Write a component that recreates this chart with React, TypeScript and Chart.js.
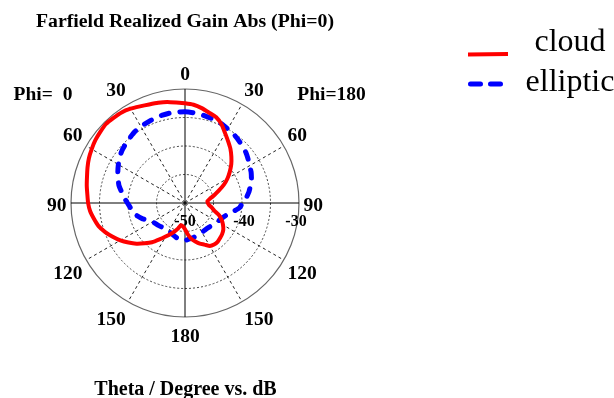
import React, { useEffect, useRef } from 'react';
import { Chart, registerables } from 'chart.js';

Chart.register(...registerables);

// Theta positions around the polar plot (clockwise from top; right half = Phi=180, left half = Phi=0)
const angles = [
  0, 5, 10, 15, 20, 25, 30, 35, 40, 45, 50, 55, 60, 65, 70, 75, 80, 85,
  90, 95, 100, 105, 110, 115, 120, 125, 130, 135, 140, 145, 150, 155, 160, 165, 170, 175,
  180, 185, 190, 195, 200, 205, 210, 215, 220, 225, 230, 235, 240, 245, 250, 255, 260, 265,
  270, 275, 280, 285, 290, 295, 300, 305, 310, 315, 320, 325, 330, 335, 340, 345, 350, 355,
];

// Realized gain (dB)
const cloud = [
  -32.5, -32.7, -33.1, -33.6, -34.0, -34.8, -35.9, -36.8, -37.6, -38.5, -39.4, -40.4, -41.4, -42.5, -43.7, -44.7, -45.55, -46.05,
  -46.0, -45.75, -45.2, -44.65, -43.6, -42.9, -42.3, -41.8, -41.5, -41.3, -41.1, -41.1, -41.3, -41.95, -42.4, -43.0, -43.6, -44.5,
  -45.4, -45.9, -46.05, -45.4, -44.7, -44.0, -43.2, -42.2, -41.0, -40.0, -38.9, -37.9, -36.9, -36.0, -35.1, -34.3, -33.8, -33.3,
  -33.0, -32.8, -32.5, -32.2, -31.8, -31.4, -31.1, -30.8, -30.6, -30.4, -30.5, -30.6, -30.9, -31.3, -31.6, -31.8, -32.0, -32.3,
];

const elliptic = [
  -34.0, -34.1, -34.2, -34.4, -34.5, -34.7, -35.0, -35.2, -35.5, -35.8, -36.1, -36.5, -36.9, -37.2, -37.6, -38.1, -38.6, -39.2,
  -39.9, -40.4, -41.4, -42.3, -42.8, -43.2, -43.4, -43.7, -43.9, -44.0, -44.1, -44.1, -44.1, -44.0, -43.9, -43.8, -43.7, -43.6,
  -43.4, -43.4, -43.6, -43.8, -44.0, -44.2, -44.3, -44.4, -44.3, -44.1, -43.9, -43.7, -43.4, -42.8, -42.0, -41.3, -40.8, -40.4,
  -39.9, -39.3, -38.7, -38.0, -37.5, -37.0, -36.5, -36.0, -35.6, -35.3, -35.0, -34.7, -34.5, -34.4, -34.2, -34.1, -34.0, -34.0,
];

const seriesNames = ['cloud', 'elliptic'];
const angleTickAngles = [0, 30, 60, 90, 120, 150, 180, 210, 240, 270, 300, 330];
const angleTickTexts = ['0', '30', '60', '90', '120', '150', '180', '150', '120', '90', '60', '30'];
const radialTicks = [-50, -40, -30];
const rMin = -50;
const rMax = -30;
const rStep = 5;
const titleText = 'Farfield Realized Gain Abs (Phi=0)';
const captionText = 'Theta / Degree vs. dB';
const phiLeftText = 'Phi=  0';
const phiRightText = 'Phi=180';

const SERIF = "'Liberation Serif', 'Times New Roman', serif";

const textPlugin = {
  id: 'cstText',
  beforeDatasetsDraw(chart: any) {
    const s = chart.scales.r;
    const ctx = chart.ctx;
    ctx.save();
    ctx.fillStyle = '#000';
    ctx.font = `bold 16px ${SERIF}`;
    ctx.textAlign = 'center';
    ctx.textBaseline = 'alphabetic';
    radialTicks.forEach((v, i) => {
      const d = s.getDistanceFromCenterForValue(v);
      const shift = i === 0 ? 0 : i === radialTicks.length - 1 ? -3 : 2;
      ctx.fillText(String(v), s.xCenter + d + shift, s.yCenter + 23);
    });
    ctx.restore();
  },
  afterDraw(chart: any) {
    const s = chart.scales.r;
    const ctx = chart.ctx;
    const R = s.drawingArea;
    const cx = s.xCenter;
    const cy = s.yCenter;
    ctx.save();
    ctx.fillStyle = '#000';
    ctx.textBaseline = 'alphabetic';

    // angle labels
    ctx.font = `bold 19.5px ${SERIF}`;
    angleTickAngles.forEach((a, i) => {
      const rad = (a * Math.PI) / 180;
      const sn = Math.sin(rad);
      const cs = Math.cos(rad);
      let x: number;
      if (a === 0 || a === 180) {
        ctx.textAlign = 'center';
        x = cx;
      } else {
        ctx.textAlign = a < 180 ? 'left' : 'right';
        x = cx + sn * (R + 4.5);
      }
      let y: number;
      if (a === 90 || a === 270) y = cy + 7.5;
      else if (cs > 0) y = cy - cs * (R + 9.5);
      else y = cy - cs * (R + 11.5) + 13.5;
      ctx.fillText(angleTickTexts[i], x, y);
    });

    // Phi labels
    ctx.textAlign = 'center';
    ctx.fillText(phiLeftText, cx - 142, cy - 103.5);
    ctx.fillText(phiRightText, cx + 146.5, cy - 103.5);

    // title & caption
    ctx.font = `bold 19.8px ${SERIF}`;
    ctx.fillText(titleText, cx, 26.7);
    ctx.font = `bold 20px ${SERIF}`;
    ctx.fillText(captionText, cx + 0.5, 395);

    // legend
    const ds = chart.data.datasets;
    ctx.font = `32px ${SERIF}`;
    ctx.textAlign = 'center';
    ctx.fillText(seriesNames[0], 570, 51);
    ctx.fillText(seriesNames[1], 570, 91);
    ctx.lineCap = 'butt';
    ctx.strokeStyle = ds[0].borderColor;
    ctx.lineWidth = 4;
    ctx.beginPath();
    ctx.moveTo(468, 54.5);
    ctx.lineTo(508, 54);
    ctx.stroke();
    ctx.strokeStyle = ds[1].borderColor;
    ctx.lineWidth = 5;
    ctx.lineCap = 'round';
    ctx.setLineDash([10, 10]);
    ctx.beginPath();
    ctx.moveTo(470.5, 84);
    ctx.lineTo(500.5, 84);
    ctx.stroke();
    ctx.restore();
  },
};

export default function App() {
  const ref = useRef<HTMLCanvasElement | null>(null);
  useEffect(() => {
    if (!ref.current) return;
    const chart = new Chart(ref.current, {
      type: 'radar',
      data: {
        labels: angles.map(String),
        datasets: [
          {
            label: seriesNames[0],
            data: cloud,
            borderColor: '#ff0000',
            borderWidth: 4,
            pointRadius: 0,
            fill: false,
            tension: 0.15,
          },
          {
            label: seriesNames[1],
            data: elliptic,
            borderColor: '#0000ff',
            borderWidth: 5,
            borderDash: [8, 11],
            borderCapStyle: 'round',
            pointRadius: 0,
            fill: false,
            tension: 0.15,
          },
        ],
      },
      options: {
        responsive: false,
        animation: false,
        layout: { padding: { left: 70.5, top: 89, right: 314.5, bottom: 80 } },
        plugins: { legend: { display: false }, title: { display: false }, tooltip: { enabled: false } },
        scales: {
          r: {
            min: rMin,
            max: rMax,
            beginAtZero: false,
            ticks: { display: false, stepSize: rStep },
            pointLabels: { display: false },
            grid: {
              circular: true,
              color: (c: any) => (c.index === 4 ? '#666' : '#444'),
              lineWidth: (c: any) => (c.index === 4 ? 1.2 : 1),
            },
            border: {
              dash: (c: any) => (c.index === 4 ? [] : [2, 2]),
            },
            angleLines: {
              display: true,
              color: (c: any) => (c.index % 18 === 0 ? '#000' : '#222'),
              lineWidth: (c: any) => (c.index % 6 === 0 ? 1 : 0),
              borderDash: (c: any) => (c.index % 18 === 0 ? [] : [3, 3]),
            },
          },
        },
      },
      plugins: [textPlugin],
    });
    return () => chart.destroy();
  }, []);
  return (
    <div style={{ position: 'fixed', left: 0, top: 0, width: 614, height: 398, background: '#fff' }}>
      <canvas ref={ref} width={614} height={398} style={{ width: 614, height: 398, display: 'block' }} />
    </div>
  );
}
